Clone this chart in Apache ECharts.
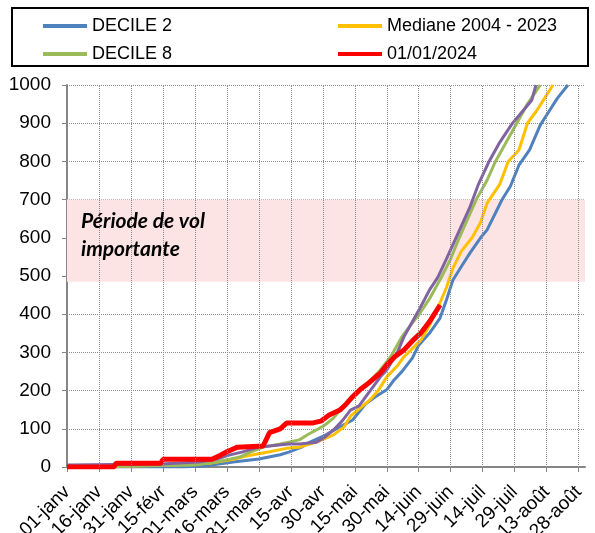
<!DOCTYPE html>
<html>
<head>
<meta charset="utf-8">
<script src="https://cdn.jsdelivr.net/npm/echarts@6/dist/echarts.min.js"></script>
<style>
  html, body { margin: 0; padding: 0; background: #fff; }
  #main { width: 595px; height: 533px; }
</style>
</head>
<body>
<div id="main"></div>
<script>
// jour de l'annee (0 = 01-janv, annee bissextile) -> cumul
var tickLabels = ['01-janv', '16-janv', '31-janv', '15-févr', '01-mars', '16-mars', '31-mars', '15-avr',
	'30-avr', '15-mai', '30-mai', '14-juin', '29-juin', '14-juil', '29-juil', '13-août', '28-août'];

var decile2 = [[0, 0], [55, 0], [65, 3], [78, 13], [90, 21], [100, 32], [104, 39], [110, 52], [114, 65],
	[120, 80], [128, 105], [134, 123], [140, 165], [145, 185], [150, 202], [153, 225], [157, 249],
	[162, 285], [165, 319], [170, 350], [175, 390], [178, 437], [181, 489], [185, 525], [189, 560],
	[194, 600], [197, 620], [201, 665], [204, 699], [208, 735], [212, 790], [217, 830], [222, 895],
	[226, 930], [230, 965], [235, 1000]];

var mediane = [[0, 0], [20, 0], [25, 2], [50, 5], [67, 10], [78, 20], [86, 31], [95, 40], [104, 50],
	[109, 52], [117, 65], [125, 84], [130, 105], [133, 133], [142, 175], [146, 200], [150, 236],
	[155, 265], [158, 288], [162, 310], [166, 332], [170, 370], [175, 430], [178, 470], [181, 520],
	[185, 565], [190, 600], [194, 640], [197, 690], [203, 740], [207, 800], [212, 830], [216, 900],
	[220, 930], [224, 965], [228, 1000]];

var decile8 = [[0, 0], [20, 2], [40, 3], [60, 5], [70, 13], [76, 20], [81, 26], [86, 39], [92, 52],
	[100, 60], [104, 65], [109, 71], [113, 85], [117, 97], [121, 110], [125, 128], [129, 155],
	[133, 175], [138, 205], [142, 225], [147, 254], [152, 290], [157, 340], [161, 370], [165, 398],
	[170, 440], [175, 490], [180, 545], [184, 600], [188, 650], [192, 700], [197, 750], [201, 800],
	[206, 850], [211, 900], [216, 950], [222, 1000]];

var violet = [[0, 5], [44, 8], [62, 13], [70, 20], [76, 31], [82, 39], [90, 52], [95, 55], [104, 60],
	[109, 60], [117, 65], [121, 78], [125, 97], [129, 120], [133, 149], [137, 160], [147, 236],
	[150, 254], [155, 300], [158, 340], [162, 380], [166, 420], [170, 463], [174, 497], [178, 545],
	[182, 594], [189, 680], [193, 740], [198, 800], [203, 850], [209, 900], [215, 940], [218, 960],
	[220, 1000]];

var annee2024 = [[0, 0], [22, 0], [23, 10], [44, 10], [45, 20], [68, 20], [72, 31], [75, 40], [80, 52],
	[92, 55], [95, 90], [100, 100], [103, 115], [115, 115], [119, 120], [123, 136], [128, 149],
	[131, 165], [134, 184], [138, 205], [142, 222], [147, 246], [150, 267], [154, 290], [158, 306],
	[162, 330], [166, 351], [170, 380], [175, 424]];

var periodeVol = [485, 700];

var gridLines = [];
for (var i = 1; i < tickLabels.length; i++) {
	gridLines.push({ xAxis: i * 15 });
}

var myChart = echarts.init(document.getElementById('main'));
var font = '"Liberation Sans", Arial, sans-serif';
var option = {
	backgroundColor: '#fff',
	animation: false,
	textStyle: { fontFamily: font },
	graphic: [
		{
			type: 'rect',
			shape: { x: 12, y: 8, width: 576, height: 58 },
			style: { fill: '#fff', stroke: '#000', lineWidth: 2 },
			z: -1
		},
		{
			type: 'text', left: 81, top: 211, z: 10,
			style: { text: 'Période de vol', font: 'italic bold 21px Lato, "Open Sans", sans-serif', fill: '#000' }
		},
		{
			type: 'text', left: 81, top: 239, z: 10,
			style: { text: 'importante', font: 'italic bold 21px Lato, "Open Sans", sans-serif', fill: '#000' }
		}
	],
	legend: [
		{
			orient: 'vertical', left: 38, top: 12, itemGap: 10,
			itemWidth: 44, itemHeight: 4, icon: 'rect',
			textStyle: { fontSize: 18, color: '#000', fontFamily: font },
			data: ['DECILE 2', 'DECILE 8']
		},
		{
			orient: 'vertical', left: 333, top: 12, itemGap: 10,
			itemWidth: 44, itemHeight: 4, icon: 'rect',
			textStyle: { fontSize: 18, color: '#000', fontFamily: font },
			data: ['Mediane 2004 - 2023', '01/01/2024']
		}
	],
	grid: { left: 67, right: 10, top: 85, bottom: 66, containLabel: false, outerBoundsMode: 'none' },
	xAxis: {
		type: 'value',
		min: 0,
		max: 243,
		interval: 15,
		axisLine: { lineStyle: { color: '#868686', width: 2 } },
		axisTick: { show: true, length: 5, lineStyle: { color: '#868686', width: 1 } },
		splitLine: { show: false },
		axisLabel: {
			rotate: 45,
			margin: 22,
			fontSize: 19,
			color: '#000',
			fontFamily: font,
			showMaxLabel: false,
			formatter: function(v) {
				return v % 15 === 0 ? (tickLabels[v / 15] || '') : '';
			}
		}
	},
	yAxis: {
		type: 'value',
		min: 0,
		max: 1000,
		interval: 100,
		axisLine: { show: true, lineStyle: { color: '#868686', width: 2 } },
		axisTick: { show: true, length: 5, lineStyle: { color: '#868686', width: 1 } },
		splitLine: { show: true, lineStyle: { color: '#8c8c8c', type: 'dotted', width: 1 } },
		axisLabel: {
			fontSize: 19, color: '#000', fontFamily: font, margin: 16,
			formatter: function(v) { return String(v); }
		}
	},
	series: [
		{
			name: 'DECILE 2', type: 'line', symbol: 'none', showSymbol: false, z: 3,
			color: '#4f81bd', lineStyle: { width: 3, color: '#4f81bd' },
			data: decile2,
			markArea: {
				silent: true,
				itemStyle: { color: '#fde4e4' },
				data: [[{ yAxis: periodeVol[0] }, { yAxis: periodeVol[1] }]]
			},
			markLine: {
				silent: true,
				symbol: 'none',
				label: { show: false },
				lineStyle: { color: '#8c8c8c', type: 'dotted', width: 1 },
				data: gridLines
			}
		},
		{
			name: 'Mediane 2004 - 2023', type: 'line', symbol: 'none', showSymbol: false, z: 3,
			color: '#ffc000', lineStyle: { width: 3, color: '#ffc000' },
			data: mediane
		},
		{
			name: 'DECILE 8', type: 'line', symbol: 'none', showSymbol: false, z: 3,
			color: '#9bbb59', lineStyle: { width: 3, color: '#9bbb59' },
			data: decile8
		},
		{
			name: '2023', type: 'line', symbol: 'none', showSymbol: false, z: 3,
			color: '#8064a2', lineStyle: { width: 3, color: '#8064a2' },
			data: violet
		},
		{
			name: '01/01/2024', type: 'line', symbol: 'none', showSymbol: false, z: 4,
			color: '#ff0000', lineStyle: { width: 5, color: '#ff0000' },
			data: annee2024
		}
	]
};
myChart.setOption(option);
</script>
</body>
</html>
